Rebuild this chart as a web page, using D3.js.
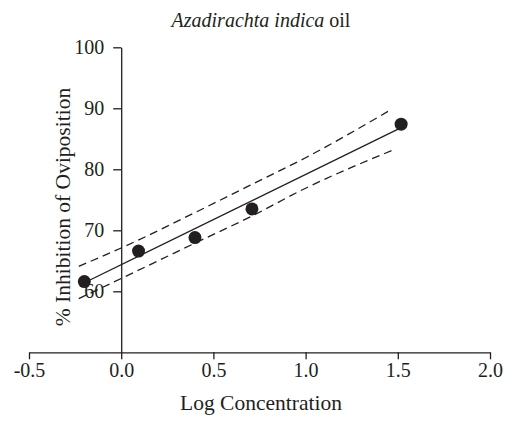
<!DOCTYPE html>
<html lang="en">
<head>
  <meta charset="UTF-8">
  <title>Azadirachta indica oil</title>
  <script src="https://d3js.org/d3.v7.min.js"></script>
  <style>
    html, body {
      margin: 0;
      background: #fff;
    }

    svg text {
      font-family: "Liberation Serif", "DejaVu Serif", serif;
      fill: #231f20;
    }

    .axis path, .axis line {
      stroke: #231f20;
      stroke-width: 1.3;
    }

    .axis text {
      font-size: 20px;
    }

    .axis-label {
      font-size: 21.5px;
    }
  </style>
</head>
<body>
  <div id="chart"></div>

  <script>
    const width = 514,
          height = 425;

    // measured points
    const logConc = [-0.2, 0.094, 0.4, 0.709, 1.518];
    const inhibition = [61.6, 66.6, 68.8, 73.5, 87.4];

    // fitted line, read at its two ends
    const fitX = [-0.2, 1.51];
    const fitY = [61.4, 86.7];

    // 95% confidence band
    const bandX = [-0.23, 0.0, 0.4, 0.7, 1.0, 1.47];
    const bandUpper = [64.1, 67.1, 72.9, 77.4, 81.9, 89.9];
    const bandLower = [58.8, 62.1, 67.9, 72.2, 76.9, 83.1];

    const xTicks = [-0.5, 0.0, 0.5, 1.0, 1.5, 2.0];
    const yTicks = [60, 70, 80, 90, 100];

    const x = d3.scaleLinear().domain([-0.5, 2.0]).range([29, 490]);
    const y = d3.scaleLinear().domain([50, 100]).range([352.3, 47.3]);

    const svg = d3.select("#chart")
      .append("svg")
      .attr("width", width)
      .attr("height", height);

    // Title
    const title = svg.append("text")
      .attr("x", 261)
      .attr("y", 27)
      .attr("text-anchor", "middle")
      .style("font-size", "20px");
    title.append("tspan").style("font-style", "italic").text("Azadirachta indica");
    title.append("tspan").text(" oil");

    // Axis X
    svg.append("g")
      .attr("class", "axis")
      .attr("transform", `translate(0,${y(50)})`)
      .call(d3.axisBottom(x)
        .tickValues(xTicks)
        .tickFormat(d => d.toFixed(1))
        .tickSize(7)
        .tickSizeOuter(0)
        .tickPadding(4));

    // Axis Y
    svg.append("g")
      .attr("class", "axis")
      .attr("transform", `translate(${x(0)},0)`)
      .call(d3.axisLeft(y)
        .tickValues(yTicks)
        .tickSize(8)
        .tickSizeOuter(0)
        .tickPadding(9));

    svg.selectAll(".axis .domain").attr("fill", "none");

    // Confidence band
    const bandLine = d3.line()
      .x(d => x(d[0]))
      .y(d => y(d[1]))
      .curve(d3.curveMonotoneX);

    [bandUpper, bandLower].forEach(vals => {
      svg.append("path")
        .datum(bandX.map((v, i) => [v, vals[i]]))
        .attr("d", bandLine)
        .attr("fill", "none")
        .attr("stroke", "#231f20")
        .attr("stroke-width", 1.3)
        .attr("stroke-dasharray", "8,5");
    });

    // Fitted line
    svg.append("path")
      .datum(fitX.map((v, i) => [v, fitY[i]]))
      .attr("d", d3.line().x(d => x(d[0])).y(d => y(d[1])))
      .attr("fill", "none")
      .attr("stroke", "#231f20")
      .attr("stroke-width", 1.3);

    // Points
    svg.selectAll("circle.pt")
      .data(logConc.map((v, i) => [v, inhibition[i]]))
      .enter()
      .append("circle")
      .attr("class", "pt")
      .attr("cx", d => x(d[0]))
      .attr("cy", d => y(d[1]))
      .attr("r", 6.5)
      .attr("fill", "#231f20");

    // X Axis Label
    svg.append("text")
      .attr("class", "axis-label")
      .attr("x", 261)
      .attr("y", 410)
      .attr("text-anchor", "middle")
      .text("Log Concentration");

    // Y Axis Label
    svg.append("text")
      .attr("class", "axis-label")
      .attr("transform", "translate(70,207) rotate(-90)")
      .attr("text-anchor", "middle")
      .text("% Inhibition of Oviposition");
  </script>
</body>
</html>
